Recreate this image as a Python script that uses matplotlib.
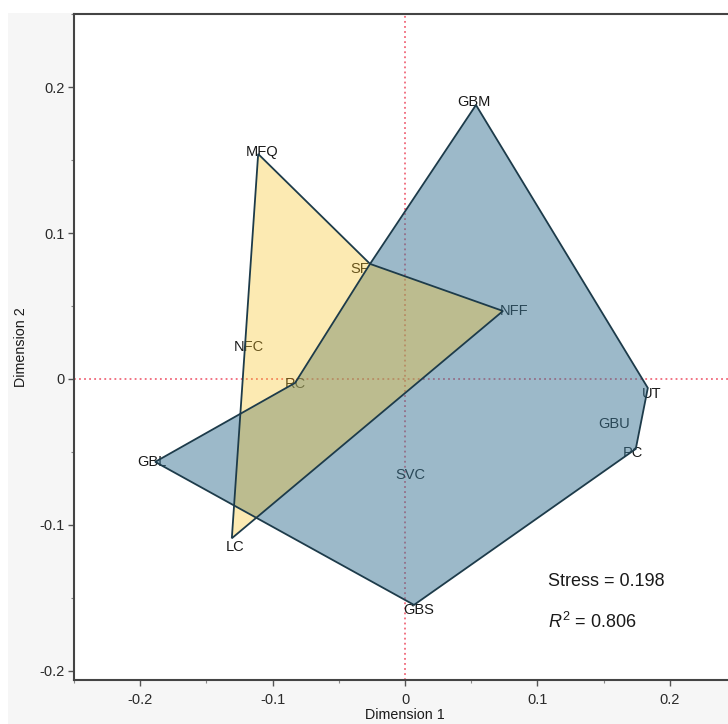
import matplotlib
matplotlib.use("Agg")
import matplotlib.pyplot as plt
from matplotlib.patches import Polygon, Rectangle
from matplotlib.ticker import MultipleLocator

plt.rcParams["font.family"] = ["Liberation Sans", "DejaVu Sans"]
plt.rcParams["mathtext.fontset"] = "custom"
plt.rcParams["mathtext.rm"] = "Liberation Sans"
plt.rcParams["mathtext.it"] = "Liberation Sans:italic"

# MDS configuration (Dimension 1, Dimension 2)
names = ["GBM", "UT", "GBU", "PC", "GBS", "SVC", "GBL", "RC", "SF",
         "NFF", "MFQ", "NFC", "LC"]
dim1 = [0.0536, 0.1834, 0.1577, 0.1743, 0.0068, 0.0038, -0.1887, -0.0830,
        -0.0264, 0.0740, -0.1109, -0.1177, -0.1308]
dim2 = [0.1879, -0.0062, -0.0309, -0.0480, -0.1550, -0.0658, -0.0569,
        -0.0027, 0.0789, 0.0466, 0.1543, 0.0219, -0.1093]

# Outline of each group, in drawing order
group_blue = ["GBM", "UT", "PC", "GBS", "GBL", "RC", "SF"]
group_yellow = ["MFQ", "SF", "NFF", "LC"]

stress = 0.198
r_squared = 0.806

# label nudges in pixels (dx right, dy down)
nudge = {"GBM": (-2, -3), "UT": (4, 6), "PC": (-3, 4), "GBS": (5, 5),
         "GBL": (-3, 0), "RC": (0, 1), "SF": (-10, 5), "NFF": (11, 0),
         "MFQ": (4, -2), "LC": (3, 9)}

W, H, DPI = 728, 724, 100
fig = plt.figure(figsize=(W / DPI, H / DPI), dpi=DPI, facecolor="white")
fig.patches.append(Rectangle((8 / W, 0), 1, (H - 13) / H, transform=fig.transFigure,
                             facecolor="#f6f6f6", edgecolor="none", zorder=-10))

ax = fig.add_axes([74 / W, (H - 680) / H, (736 - 74) / W, (680 - 14) / H])
ax.set_facecolor("white")
ax.set_xlim(-0.25, 0.25)
ax.set_ylim(-0.2065, 0.2503)

coords = {n: (x, y) for n, x, y in zip(names, dim1, dim2)}

ax.axhline(0, color="#f0687a", lw=1.3, ls=(0, (1, 1.8)), zorder=1)
ax.axvline(0, color="#f0687a", lw=1.3, ls=(0, (1, 1.8)), zorder=1)

for n in names:
    dx, dy = nudge.get(n, (0, 0))
    ax.annotate(n, coords[n], xytext=(dx * 72 / DPI, -dy * 72 / DPI),
                textcoords="offset points", ha="center", va="center",
                fontsize=10.5, color="#1a1a1a", zorder=2)

edge = "#1d3b4a"
blue_pts = [coords[n] for n in group_blue]
yellow_pts = [coords[n] for n in group_yellow]
ax.add_patch(Polygon(blue_pts, closed=True, facecolor="#3a7594", alpha=0.5,
                     edgecolor="none", zorder=3))
ax.add_patch(Polygon(yellow_pts, closed=True, facecolor="#f9c323", alpha=0.35,
                     edgecolor="none", zorder=4))
ax.add_patch(Polygon(blue_pts, closed=True, fill=False, edgecolor=edge, lw=1.3,
                     joinstyle="miter", zorder=5))
ax.add_patch(Polygon(yellow_pts, closed=True, fill=False, edgecolor=edge, lw=1.3,
                     joinstyle="miter", zorder=5))

ax.text(0.108, -0.139, f"Stress = {stress:.3f}", fontsize=13, color="#1a1a1a",
        ha="left", va="center", zorder=6)
ax.text(0.108, -0.167, f"$R^{{2}}$ = {r_squared:.3f}", fontsize=13, color="#1a1a1a",
        ha="left", va="center", zorder=6)

ax.xaxis.set_major_locator(MultipleLocator(0.1))
ax.xaxis.set_minor_locator(MultipleLocator(0.05))
ax.yaxis.set_major_locator(MultipleLocator(0.1))
ax.yaxis.set_minor_locator(MultipleLocator(0.05))
fmt = plt.FuncFormatter(lambda v, p: "0" if abs(v) < 1e-9 else f"{v:g}")
ax.xaxis.set_major_formatter(fmt)
ax.yaxis.set_major_formatter(fmt)
ax.tick_params(which="major", direction="out", length=4, width=1, color="#555555",
               labelsize=10.5, labelcolor="#2a2a2a")
ax.tick_params(axis="x", which="major", pad=5)
ax.tick_params(axis="y", which="major", pad=3)
ax.tick_params(which="minor", direction="out", length=2.5, width=0.8, color="#888888")

for s in ("left", "top", "bottom"):
    ax.spines[s].set_color("#444444")
    ax.spines[s].set_linewidth(1.5)
ax.spines["right"].set_visible(False)

ax.set_xlabel("Dimension 1", fontsize=10.3, color="#1a1a1a", labelpad=1)
ax.set_ylabel("Dimension 2", fontsize=10.3, color="#1a1a1a", labelpad=8)

fig.savefig("out.png", dpi=DPI, facecolor=fig.get_facecolor())
